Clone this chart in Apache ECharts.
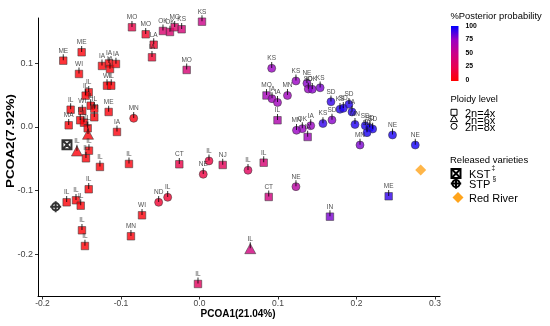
<!DOCTYPE html>
<html><head><meta charset="utf-8">
<script src="https://cdn.jsdelivr.net/npm/echarts@6/dist/echarts.min.js"></script>
<style>html,body{margin:0;padding:0;background:#fff}#c{width:550px;height:326px}</style>
</head><body><div id="c"></div>
<script>
// ---- data ----
const xTicks = [-0.2, -0.1, 0.0, 0.1, 0.2, 0.3];
const yTicks = [-0.2, -0.1, 0.0, 0.1];
const probTicks = [100, 75, 50, 25, 0];

// tetraploid (2n=4x)
const tetraLabel = ['MO','MO','OK','OK','MO','KS','KS','LA','IA','MO','ME','ME','WI','IA','IA','IA','IA','WI','IL','IL','IL','IL','IL','IL','WI','WI','IL','IL','ME','MA','IA','IL','IL','IL','IL','IL','CT','NJ','IL','CT','IN','IL','ME','IL','IL','IL','IL','WI','IL','IL','MN','MO','IL','IA'];
const tetraX = [-0.0860,-0.0685,-0.0465,-0.0376,-0.0316,-0.0227,0.0032,-0.0583,-0.0605,-0.0163,-0.1501,-0.1735,-0.1535,-0.1242,-0.1153,-0.1140,-0.1064,-0.1178,-0.1124,-0.1411,-0.1450,-0.1641,-0.1386,-0.1340,-0.1340,-0.1493,-0.1519,-0.1471,-0.1157,-0.1666,-0.1051,-0.1424,-0.1408,-0.1446,-0.1268,-0.0898,-0.0257,0.0296,0.0818,0.0882,0.1662,-0.0019,0.2410,-0.1411,-0.1692,-0.1573,-0.1513,-0.0732,-0.1497,-0.1459,-0.0873,0.0854,0.0994,0.1378];
const tetraY = [0.1566,0.1456,0.1508,0.1492,0.1566,0.1535,0.1654,0.1292,0.1094,0.0895,0.1173,0.1041,0.0832,0.0958,0.0997,0.0910,0.0989,0.0648,0.0648,0.0544,0.0491,0.0270,0.0333,0.0286,0.0151,0.0250,0.0104,0.0066,0.0234,0.0025,-0.0080,-0.0022,-0.0374,-0.0494,-0.0630,-0.0583,-0.0588,-0.0599,-0.0563,-0.1102,-0.1412,-0.2470,-0.1091,-0.0981,-0.1186,-0.1154,-0.1239,-0.1390,-0.1626,-0.1873,-0.1720,0.0494,0.0104,-0.0159];
const tetraProb = [22,12,38,38,35,42,50,12,14,40,3,2,2,2,2,2,3,2,2,2,2,2,2,2,2,2,2,2,3,2,4,2,2,2,2,4,22,28,40,45,80,30,92,2,2,2,2,3,2,2,3,70,65,72];

// hexaploid (2n=6x)
const hexaLabel = ['IL','IL','IL'];
const hexaX = [-0.1420,-0.1561,0.0647];
const hexaY = [-0.0116,-0.0379,-0.1915];
const hexaProb = [2,3,45];

// octoploid (2n=8x)
const octoLabel = ['MN','IL','NE','IL','NE','IL','ND','KS','KS','NE','SD','OK','KS','IA','IA','MN','SD','SD','KS','SD','IA','SD','KS','IA','OK','MN','MN','SD','SD','SD','SD','MN','NE','NE'];
const octoX = [-0.0838,0.0121,0.0048,0.0618,0.1229,-0.0405,-0.0520,0.0920,0.1229,0.1369,0.1386,0.1437,0.1537,0.0924,0.0994,0.1121,0.1675,0.1904,0.1790,0.1832,0.1943,0.1688,0.1573,0.1417,0.1310,0.1236,0.1981,0.2112,0.2168,0.2206,0.2134,0.2045,0.2459,0.2749];
const octoY = [0.0135,-0.0535,-0.0745,-0.0682,-0.0940,-0.1107,-0.1186,0.0921,0.0722,0.0686,0.0596,0.0591,0.0615,0.0443,0.0384,0.0494,0.0395,0.0355,0.0277,0.0292,0.0234,0.0108,0.0053,0.0019,-0.0028,-0.0053,0.0038,0.0019,-0.0013,-0.0033,-0.0091,-0.0285,-0.0127,-0.0285];
const octoProb = [5,20,20,30,60,15,15,75,75,78,75,78,80,72,72,72,92,95,95,95,95,78,92,75,75,75,95,96,96,96,96,80,96,97];

// released varieties
const varietyName = ['KST','STP','Red River'];
const varietyX = [-0.1688,-0.1832,0.2818];
const varietyY = [-0.0280,-0.1255,-0.0678];

// ---- chart ----
const FONT = '"Liberation Sans", Arial, sans-serif';
const gradColors = ['#ff0000','#e80050','#ca0088','#9a00c3','#0000ff'];
const KST_PATH = 'path://M0,0 L10,0 L10,10 L0,10 Z M0,0 L10,10 M10,0 L0,10';
const STP_PATH = 'path://M6,0 L6,12 M0,6 L12,6 M10,6 A4,4 0 1,1 2,6 A4,4 0 1,1 10,6 Z';

function pts(labels, xs, ys, probs) {
  return labels.map((n, i) => ({ name: n, value: [xs[i], ys[i], probs[i]] }));
}
function pointLabel(size) {
  return {
    show: true, position: 'top', distance: 0, offset: [0, size / 2],
    formatter: p => '{t|' + p.name + '}\n{l|}',
    rich: {
      t: { fontSize: 6.5, fontFamily: FONT, color: '#222', lineHeight: 7, align: 'center' },
      l: { width: 1, height: 6, lineHeight: 6, backgroundColor: '#000', align: 'center' }
    }
  };
}
const border = { borderColor: '#3a3a3a', borderWidth: 0.7 };

const chart = echarts.init(document.getElementById('c'), null, { renderer: 'canvas' });
const g = [];
const tx = (text, x, y, size, extra) => g.push(Object.assign({
  type: 'text', x, y, style: Object.assign({ text, font: (extra && extra.bold ? 'bold ' : '') + size + 'px ' + FONT, fill: '#000', textVerticalAlign: 'middle' }, extra && extra.style || {})
}, extra && extra.el || {}));
const ln = (x1, y1, x2, y2, w) => g.push({ type: 'line', shape: { x1, y1, x2, y2 }, style: { stroke: '#000', lineWidth: w } });

// color bar legend
tx('%Posterior probability', 450.5, 16, 9.4);
g.push({ type: 'rect', shape: { x: 451, y: 26, width: 7.5, height: 55 },
  style: { fill: new echarts.graphic.LinearGradient(0, 0, 0, 1, gradColors.slice().reverse().map((c, i) => ({ offset: i / 4, color: c }))) } });
probTicks.forEach((v, i) => tx(String(v), 465.5, 26 + (100 - v) / 100 * 54, 6.8, { bold: true }));
// ploidy legend
tx('Ploidy level', 450.5, 99.5, 9.4);
g.push({ type: 'rect', shape: { x: 451, y: 109.3, width: 6, height: 6 }, style: { fill: 'none', stroke: '#000', lineWidth: 1 } });
g.push({ type: 'polygon', shape: { points: [[454, 115.2], [457.6, 121.6], [450.4, 121.6]] }, style: { fill: 'none', stroke: '#000', lineWidth: 1 } });
g.push({ type: 'circle', shape: { cx: 454, cy: 126.3, r: 3 }, style: { fill: 'none', stroke: '#000', lineWidth: 1 } });
tx('2n=4x', 465, 114, 11);
tx('2n=6x', 465, 121, 11);
tx('2n=8x', 465, 128, 11);
// varieties legend
tx('Released varieties', 450, 160, 9.5);
g.push({ type: 'rect', shape: { x: 451.5, y: 169, width: 9, height: 9 }, style: { fill: 'none', stroke: '#000', lineWidth: 2 } });
ln(451.5, 169, 460.5, 178, 2); ln(460.5, 169, 451.5, 178, 2);
g.push({ type: 'circle', shape: { cx: 456, cy: 183.5, r: 3.6 }, style: { fill: 'none', stroke: '#000', lineWidth: 2 } });
ln(456, 178.3, 456, 188.7, 2); ln(450.8, 183.5, 461.2, 183.5, 2);
g.push({ type: 'polygon', shape: { points: [[458, 192], [463.5, 197.5], [458, 203], [452.5, 197.5]] }, style: { fill: '#ffa41b' } });
tx('KST', 469, 174.5, 11);
tx('\u2021', 491.5, 168.5, 6.5);
tx('\u00a7', 492.5, 179.5, 6.5);
tx('STP', 469, 184.5, 11);
tx('Red River', 469, 198.5, 11);
// axis titles
tx('PCOA1(21.04%)', 238, 314.5, 10, { bold: true, style: { textAlign: 'center' } });
tx('PCOA2(7.92%)', 11, 141, 10, { bold: true, style: { textAlign: 'center' }, el: { rotation: Math.PI / 2, scaleX: 1.35 } });

const axisCommon = {
  type: 'value', splitLine: { show: false },
  axisLine: { onZero: false, lineStyle: { color: '#000', width: 1 } },
  axisTick: { show: true, length: 3, lineStyle: { color: '#333' } },
};

chart.setOption({
  animation: false,
  backgroundColor: '#fff',
  grid: { left: 38, right: 110, top: 18, bottom: 29.5 },
  xAxis: Object.assign({}, axisCommon, {
    min: -0.2057, max: 0.3064,
    axisTick: Object.assign({}, axisCommon.axisTick, { customValues: xTicks }),
    axisLabel: { customValues: xTicks, formatter: v => v.toFixed(1), fontSize: 8.5, fontFamily: FONT, color: '#444', margin: 3 }
  }),
  yAxis: Object.assign({}, axisCommon, {
    min: -0.2667, max: 0.1712,
    axisTick: Object.assign({}, axisCommon.axisTick, { customValues: yTicks }),
    axisLabel: { customValues: yTicks, formatter: v => v.toFixed(1), fontSize: 9, fontFamily: FONT, color: '#444', margin: 5 }
  }),
  visualMap: { type: 'continuous', show: false, dimension: 2, min: 0, max: 100, seriesIndex: [0, 1, 2], inRange: { color: gradColors } },
  series: [
    { type: 'scatter', name: '2n=4x', symbol: 'rect', symbolSize: 7.5, itemStyle: border, label: pointLabel(7.5), data: pts(tetraLabel, tetraX, tetraY, tetraProb) },
    { type: 'scatter', name: '2n=6x', symbol: 'triangle', symbolSize: [11, 10], itemStyle: border, label: pointLabel(10), data: pts(hexaLabel, hexaX, hexaY, hexaProb) },
    { type: 'scatter', name: '2n=8x', symbol: 'circle', symbolSize: 8, itemStyle: border, label: pointLabel(8), data: pts(octoLabel, octoX, octoY, octoProb) },
    { type: 'scatter', name: 'KST', symbol: KST_PATH, symbolSize: 9, itemStyle: { color: 'none', borderColor: '#000', borderWidth: 2 }, data: [[varietyX[0], varietyY[0]]] },
    { type: 'scatter', name: 'STP', symbol: STP_PATH, symbolSize: 11, itemStyle: { color: 'none', borderColor: '#000', borderWidth: 2 }, data: [[varietyX[1], varietyY[1]]] },
    { type: 'scatter', name: 'Red River', symbol: 'diamond', symbolSize: 11, itemStyle: { color: '#ffa41b' }, data: [[varietyX[2], varietyY[2]]] }
  ],
  graphic: g
});
</script></body></html>
